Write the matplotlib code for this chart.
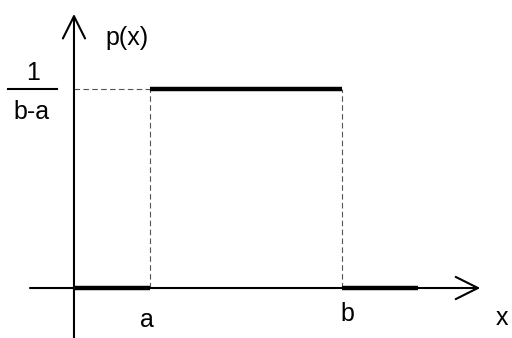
import matplotlib.pyplot as plt

# uniform density on [a, b]
a = 1.0
b = 3.5
density = 1.0 / (b - a)
seg_x = [[0.0, a], [a, b], [b, 4.5]]
seg_y = [[0.0, 0.0], [density, density], [0.0, 0.0]]

axis_x = (-0.575, 5.31)
axis_y = (-0.1, 0.551)

plt.rcParams["font.family"] = ["Liberation Sans", "DejaVu Sans"]

fig = plt.figure(figsize=(5.12, 3.38), dpi=100)
ax = fig.add_axes([0, 0, 1, 1])
ax.set_xlim(-0.967, 5.725)
ax.set_ylim(-0.1005, 0.579)
ax.axis("off")

arrow = dict(arrowstyle="->,head_length=1.6,head_width=0.8", lw=1.5, color="black",
             shrinkA=0, shrinkB=0, mutation_scale=10)
ax.annotate("", xy=(axis_x[1], 0), xytext=(axis_x[0], 0), arrowprops=arrow)
ax.annotate("", xy=(0, axis_y[1]), xytext=(0, axis_y[0]), arrowprops=arrow)

# guide lines
dash = dict(color="#555555", lw=0.8, linestyle=(0, (5, 3)))
ax.plot([0, a], [density, density], **dash)
ax.plot([a, a], [0, density], **dash)
ax.plot([b, b], [0, density], **dash)

for xs, ys in zip(seg_x, seg_y):
    ax.plot(xs, ys, color="black", lw=3.2, solid_capstyle="butt")

fs = 18
ax.text(0.69, 0.5025, "p(x)", fontsize=fs, ha="center", va="center")
ax.text(-0.536, 0.432, "1", fontsize=fs, ha="center", va="center")
ax.plot([-0.863, -0.222], [density, density], color="black", lw=1.5)
ax.text(-0.56, 0.354, "b-a", fontsize=fs, ha="center", va="center")
ax.text(a - 0.04, -0.064, "a", fontsize=fs, ha="center", va="center")
ax.text(b + 0.07, -0.052, "b", fontsize=fs, ha="center", va="center")
ax.text(5.595, -0.06, "x", fontsize=fs, ha="center", va="center")

fig.savefig("out.png", dpi=100)
